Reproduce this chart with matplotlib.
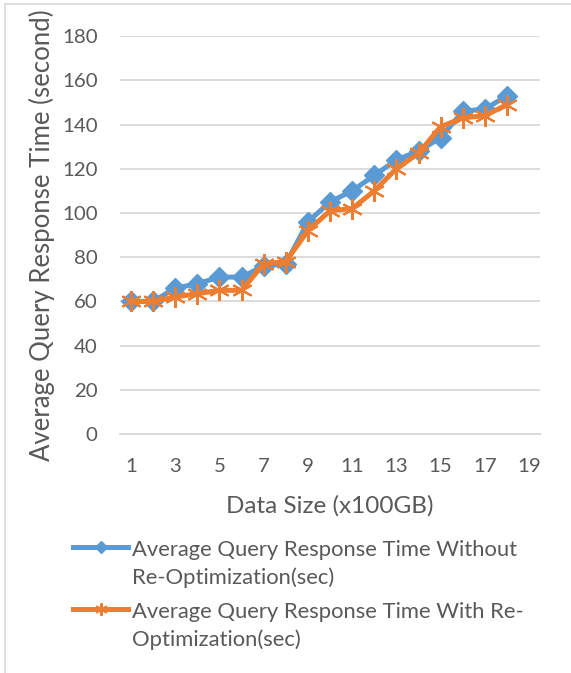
import matplotlib.pyplot as plt
from matplotlib.lines import Line2D
from matplotlib.legend_handler import HandlerLine2D

# data
sizes = list(range(1, 19))
without_reopt = [60, 60, 66, 68, 71, 71, 76, 77, 96, 105, 110, 117, 124, 128, 134, 146, 147, 153]
with_reopt = [60, 60, 62, 63.5, 65, 65, 77, 78, 92, 101, 102, 110, 120, 127, 139, 143, 144, 149]
x_ticks = [1, 3, 5, 7, 9, 11, 13, 15, 17, 19]
y_ticks = [0, 20, 40, 60, 80, 100, 120, 140, 160, 180]

label_a = "Average Query Response Time Without\nRe-Optimization(sec)"
label_b = "Average Query Response Time With Re-\nOptimization(sec)"

plt.rcParams['font.family'] = ['Lato', 'DejaVu Sans']
text_col = "#595959"
grid_col = "#d9d9d9"
blue = "#5b9bd5"
orange = "#ed7d31"


# legend handle sits on the first line of a two-line label (Excel style)
class FirstLineHandler(HandlerLine2D):
    def create_artists(self, legend, orig_handle, xdescent, ydescent,
                       width, height, fontsize, trans):
        return super().create_artists(legend, orig_handle, xdescent,
                                      ydescent - 25, width, height,
                                      fontsize, trans)


fig = plt.figure(figsize=(5.71, 6.73), dpi=100)
ax = fig.add_axes([0.210, 0.355, 0.736, 0.5914])

ax.plot(sizes, without_reopt, color=blue, lw=3.6, marker="D", ms=10,
        label=label_a, zorder=3)
ax.plot(sizes, with_reopt, color=orange, lw=3.6, marker=(6, 2, 0), ms=15,
        mew=1.5, label=label_b, zorder=4)

ax.set_xlim(0.5, 19.5)
ax.set_ylim(0, 180)
ax.set_xticks(x_ticks)
ax.set_yticks(y_ticks)
ax.tick_params(length=0, labelsize=14.7, colors=text_col)
ax.tick_params(axis="x", pad=17)
ax.tick_params(axis="y", pad=16)
ax.grid(axis="y", color=grid_col, lw=1.3)
ax.set_axisbelow(True)
for side in ["top", "right", "left"]:
    ax.spines[side].set_visible(False)
ax.spines["bottom"].set_color(grid_col)
ax.spines["bottom"].set_linewidth(1.3)

ax.set_xlabel("Data Size (x100GB)", fontsize=17.5, color=text_col, labelpad=15)
ax.set_ylabel("Average Query Response Time (second)", fontsize=18.5,
              color=text_col, labelpad=5)

h = ax.get_lines()
leg = fig.legend(loc="upper left", bbox_to_anchor=(0.094, 0.227), frameon=False,
                 fontsize=15.8, labelcolor=text_col, handlelength=2.5,
                 handletextpad=0.15, labelspacing=0.62, markerscale=0.6,
                 handler_map={l: FirstLineHandler() for l in h})
for t in leg.get_texts():
    t.set_linespacing(1.45)

# chart area border (left and top edges only visible)
fig.add_artist(Line2D([0.008, 0.008], [0, 0.994], color=grid_col, lw=1.2))
fig.add_artist(Line2D([0.008, 1], [0.994, 0.994], color=grid_col, lw=1.2))

fig.savefig("out.png", dpi=100)
